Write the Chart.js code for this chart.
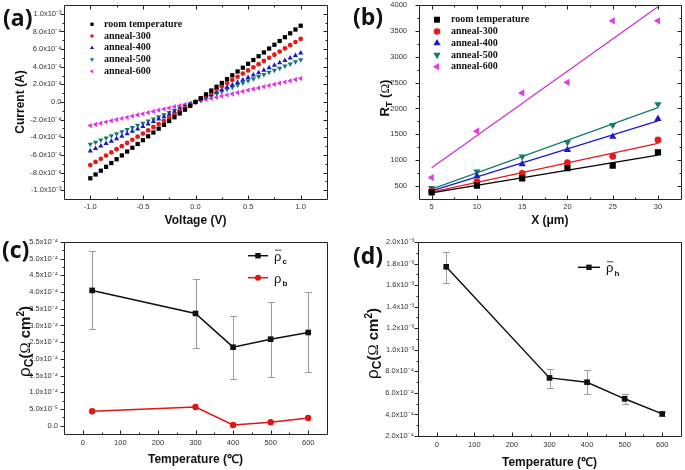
<!DOCTYPE html>
<html>
<head>
<meta charset="utf-8">
<script src="https://cdn.jsdelivr.net/npm/chart.js@4.4.1/dist/chart.umd.min.js"></script>
<style>
  body { margin: 0; background: #fff; }
  #wrap { position: relative; width: 685px; height: 470px; }
  canvas { position: absolute; }
</style>
</head>
<body>
<div id="wrap">
  <canvas id="chartA" width="340" height="235" style="left:0;top:0"></canvas>
  <canvas id="chartB" width="345" height="235" style="left:340px;top:0"></canvas>
  <canvas id="chartC" width="340" height="235" style="left:0;top:235px"></canvas>
  <canvas id="chartD" width="345" height="235" style="left:340px;top:235px"></canvas>
</div>
<script>
// ---- (a) I-V sweeps ----
const voltage = [-1, -0.95, -0.9, -0.85, -0.8, -0.75, -0.7, -0.65, -0.6, -0.55, -0.5, -0.45, -0.4, -0.35, -0.3, -0.25, -0.2, -0.15, -0.1, -0.05,
  0, 0.05, 0.1, 0.15, 0.2, 0.25, 0.3, 0.35, 0.4, 0.45, 0.5, 0.55, 0.6, 0.65, 0.7, 0.75, 0.8, 0.85, 0.9, 0.95, 1];
const currentRoom = [-8.65e-4, -8.22e-4, -7.79e-4, -7.35e-4, -6.92e-4, -6.49e-4, -6.06e-4, -5.62e-4, -5.19e-4, -4.76e-4, -4.33e-4, -3.89e-4, -3.46e-4, -3.03e-4, -2.60e-4, -2.16e-4, -1.73e-4, -1.30e-4, -0.87e-4, -0.43e-4,
  0, 0.43e-4, 0.87e-4, 1.30e-4, 1.73e-4, 2.16e-4, 2.60e-4, 3.03e-4, 3.46e-4, 3.89e-4, 4.33e-4, 4.76e-4, 5.19e-4, 5.62e-4, 6.06e-4, 6.49e-4, 6.92e-4, 7.35e-4, 7.79e-4, 8.22e-4, 8.65e-4];
const current300 = [-7.15e-4, -6.79e-4, -6.44e-4, -6.08e-4, -5.72e-4, -5.36e-4, -5.01e-4, -4.65e-4, -4.29e-4, -3.93e-4, -3.58e-4, -3.22e-4, -2.86e-4, -2.50e-4, -2.15e-4, -1.79e-4, -1.43e-4, -1.07e-4, -0.72e-4, -0.36e-4,
  0, 0.36e-4, 0.72e-4, 1.07e-4, 1.43e-4, 1.79e-4, 2.15e-4, 2.50e-4, 2.86e-4, 3.22e-4, 3.58e-4, 3.93e-4, 4.29e-4, 4.65e-4, 5.01e-4, 5.36e-4, 5.72e-4, 6.08e-4, 6.44e-4, 6.79e-4, 7.15e-4];
const current400 = [-5.55e-4, -5.27e-4, -5.00e-4, -4.72e-4, -4.44e-4, -4.16e-4, -3.89e-4, -3.61e-4, -3.33e-4, -3.05e-4, -2.78e-4, -2.50e-4, -2.22e-4, -1.94e-4, -1.67e-4, -1.39e-4, -1.11e-4, -0.83e-4, -0.56e-4, -0.28e-4,
  0, 0.28e-4, 0.56e-4, 0.83e-4, 1.11e-4, 1.39e-4, 1.67e-4, 1.94e-4, 2.22e-4, 2.50e-4, 2.78e-4, 3.05e-4, 3.33e-4, 3.61e-4, 3.89e-4, 4.16e-4, 4.44e-4, 4.72e-4, 5.00e-4, 5.27e-4, 5.55e-4];
const current500 = [-4.80e-4, -4.56e-4, -4.32e-4, -4.08e-4, -3.84e-4, -3.60e-4, -3.36e-4, -3.12e-4, -2.88e-4, -2.64e-4, -2.40e-4, -2.16e-4, -1.92e-4, -1.68e-4, -1.44e-4, -1.20e-4, -0.96e-4, -0.72e-4, -0.48e-4, -0.24e-4,
  0, 0.24e-4, 0.48e-4, 0.72e-4, 0.96e-4, 1.20e-4, 1.44e-4, 1.68e-4, 1.92e-4, 2.16e-4, 2.40e-4, 2.64e-4, 2.88e-4, 3.12e-4, 3.36e-4, 3.60e-4, 3.84e-4, 4.08e-4, 4.32e-4, 4.56e-4, 4.80e-4];
const current600 = [-2.67e-4, -2.54e-4, -2.40e-4, -2.27e-4, -2.14e-4, -2.00e-4, -1.87e-4, -1.74e-4, -1.60e-4, -1.47e-4, -1.34e-4, -1.20e-4, -1.07e-4, -0.93e-4, -0.80e-4, -0.67e-4, -0.53e-4, -0.40e-4, -0.27e-4, -0.13e-4,
  0, 0.13e-4, 0.27e-4, 0.40e-4, 0.53e-4, 0.67e-4, 0.80e-4, 0.93e-4, 1.07e-4, 1.20e-4, 1.34e-4, 1.47e-4, 1.60e-4, 1.74e-4, 1.87e-4, 2.00e-4, 2.14e-4, 2.27e-4, 2.40e-4, 2.54e-4, 2.67e-4];

// ---- (b) TLM total resistance vs spacing ----
const spacing = [5, 10, 15, 20, 25, 30];
const rtRoom = [380, 510, 650, 845, 895, 1150];
const rt300 = [400, 585, 745, 955, 1075, 1390];
const rt400 = [410, 690, 925, 1200, 1455, 1800];
const rt500 = [460, 780, 1070, 1345, 1680, 2080];
const rt600 = [665, 1560, 2300, 2505, 3695, 3695];
const fitX = [5, 30];
const fitRoom = [370, 1100];
const fit300 = [385, 1325];
const fit400 = [405, 1760];
const fit500 = [440, 2015];
const fit600 = [855, 3965];

// ---- (c), (d) vs annealing temperature ----
const temps = [25, 300, 400, 500, 600];
const rhoC = [4.05e-4, 3.36e-4, 2.35e-4, 2.59e-4, 2.79e-4];
const rhoCLow = [2.88e-4, 2.32e-4, 1.41e-4, 1.46e-4, 1.61e-4];
const rhoCHigh = [5.23e-4, 4.40e-4, 3.29e-4, 3.70e-4, 4.00e-4];
const rhoB = [4.3e-5, 5.6e-5, 2e-6, 1e-5, 2.3e-5];
const rhoH = [1.77e-3, 7.39e-4, 6.99e-4, 5.45e-4, 4.05e-4];
const rhoHLow = [1.62e-3, 6.48e-4, 5.87e-4, 4.96e-4, 3.84e-4];
const rhoHHigh = [1.91e-3, 8.23e-4, 8.10e-4, 5.87e-4, 4.24e-4];

// ---- tick values ----
const ticksAX = [-1, -0.5, 0, 0.5, 1];
const ticksAY = [-1e-3, -8e-4, -6e-4, -4e-4, -2e-4, 0, 2e-4, 4e-4, 6e-4, 8e-4, 1e-3];
const ticksBX = [5, 10, 15, 20, 25, 30];
const ticksBY = [500, 1000, 1500, 2000, 2500, 3000, 3500, 4000];
const ticksTemp = [0, 100, 200, 300, 400, 500, 600];
const ticksCY = [0, 5e-5, 1e-4, 1.5e-4, 2e-4, 2.5e-4, 3e-4, 3.5e-4, 4e-4, 4.5e-4, 5e-4, 5.5e-4];
const ticksDY = [2e-4, 4e-4, 6e-4, 8e-4, 1e-3, 1.2e-3, 1.4e-3, 1.6e-3, 1.8e-3, 2e-3];

const SANS = "'Liberation Sans', Arial, sans-serif";
const SERIF = "'Liberation Serif', 'Times New Roman', serif";
Chart.defaults.font.family = SANS;
Chart.defaults.color = '#333';

const SUP = { '-': '⁻', '0': '⁰', '1': '¹', '2': '²', '3': '³', '4': '⁴', '5': '⁵', '6': '⁶', '7': '⁷', '8': '⁸', '9': '⁹' };
function sci(v) {
  if (Math.abs(v) < 1e-12) return '0.0';
  const e = Math.floor(Math.log10(Math.abs(v)) + 1e-9);
  return (v / Math.pow(10, e)).toFixed(1) + 'x10' + String(e).split('').map(c => SUP[c]).join('');
}
const fixed1 = v => v.toFixed(1);
const plain = v => String(v);
const snap = v => Math.round(v) + 0.5;

function minors(majors, min, max) {
  const step = majors[1] - majors[0], eps = (max - min) * 1e-6, out = [];
  for (let v = majors[0] - step / 2; v < max - eps; v += step) if (v > min + eps) out.push(v);
  return out;
}

function mark(ctx, style, rot, r, x, y) {
  if (Chart.helpers && Chart.helpers.drawPoint) {
    Chart.helpers.drawPoint(ctx, { pointStyle: style, rotation: rot, radius: r, borderWidth: 0 }, x, y);
  } else {
    ctx.beginPath(); ctx.arc(x, y, r, 0, Math.PI * 2); ctx.fill();
  }
}

// label gap goes through tickLength (grid hidden) so the layout does not add it as chart padding
function xAxis(min, max, majors, fmt, h, gap, title, titlePad) {
  return {
    type: 'linear', position: 'bottom', min, max,
    grid: { display: false, drawTicks: true, tickLength: gap }, border: { display: false },
    afterBuildTicks: s => { s.ticks = majors.map(v => ({ value: v })); },
    afterFit: s => { s.height = h; },
    ticks: { callback: fmt, padding: 0, autoSkip: false, maxRotation: 0, minRotation: 0, color: '#333', font: { size: 7.5 } },
    title: { display: true, text: title, color: '#111', font: { size: 12, weight: 'bold' }, padding: { top: 0, bottom: titlePad } }
  };
}
function yAxis(min, max, majors, fmt, w, gap, title, titlePad) {
  return {
    type: 'linear', position: 'left', min, max,
    grid: { display: false, drawTicks: true, tickLength: gap }, border: { display: false },
    afterBuildTicks: s => { s.ticks = majors.map(v => ({ value: v })); },
    afterFit: s => { s.width = w; },
    ticks: { callback: fmt, padding: 0, autoSkip: false, color: '#333', font: { size: 7.5 } },
    title: { display: !!title, text: title || '', color: '#111', font: { size: 12, weight: 'bold' }, padding: { top: titlePad || 0, bottom: 0 } }
  };
}

// rotated axis title built from pieces (sub/superscripts)
function richTitle(ctx, cx, cy, parts, base) {
  ctx.save();
  ctx.translate(cx, cy); ctx.rotate(-Math.PI / 2);
  ctx.textAlign = 'left'; ctx.textBaseline = 'alphabetic'; ctx.fillStyle = '#111';
  let total = 0;
  parts.forEach(p => { ctx.font = p.f; total += ctx.measureText(p.t).width; });
  let x = -total / 2;
  parts.forEach(p => { ctx.font = p.f; ctx.fillText(p.t, x, base + (p.dy || 0)); x += ctx.measureText(p.t).width; });
  ctx.restore();
}

function symbolLegend(ctx, items, mx, tx, y0, dy, radius) {
  items.forEach((it, i) => {
    const y = y0 + i * dy;
    ctx.fillStyle = it.color;
    mark(ctx, it.style, it.rot, radius[it.style], mx, y);
    ctx.fillStyle = '#111';
    ctx.font = `bold 10px ${SERIF}`; ctx.textAlign = 'left'; ctx.textBaseline = 'middle';
    ctx.fillText(it.label, tx, y);
  });
}

function lineLegend(ctx, x1, x2, y, color, style, r, sub, bar, subDy) {
  ctx.strokeStyle = color; ctx.lineWidth = 1.5;
  ctx.beginPath(); ctx.moveTo(x1, y); ctx.lineTo(x2, y); ctx.stroke();
  ctx.fillStyle = color;
  mark(ctx, style, 0, r, (x1 + x2) / 2, y);
  const tx = x2 + 6;
  ctx.fillStyle = '#111'; ctx.textAlign = 'left'; ctx.textBaseline = 'alphabetic';
  ctx.font = `13px ${SANS}`;
  ctx.fillText('ρ', tx, y + 5);
  const w = ctx.measureText('ρ').width;
  if (bar) {
    ctx.strokeStyle = '#111'; ctx.lineWidth = 0.8;
    ctx.beginPath(); ctx.moveTo(tx + 1, y - 5.5); ctx.lineTo(tx + w, y - 5.5); ctx.stroke();
  }
  ctx.font = `bold 8px ${SANS}`;
  ctx.fillText(sub, tx + w + 1, y + subDy);
}

function deco(cfg) {
  return {
    id: 'deco',
    beforeDatasetsDraw(chart) {
      if (!cfg.errors) return;
      const { ctx, scales: { x, y } } = chart;
      ctx.save();
      ctx.strokeStyle = '#9c9c9c'; ctx.lineWidth = 1;
      ctx.beginPath();
      cfg.errors.xs.forEach((xv, i) => {
        const px = snap(x.getPixelForValue(xv));
        const lo = snap(y.getPixelForValue(cfg.errors.lo[i])), hi = snap(y.getPixelForValue(cfg.errors.hi[i]));
        ctx.moveTo(px, lo); ctx.lineTo(px, hi);
        ctx.moveTo(px - 3.5, lo); ctx.lineTo(px + 3.5, lo);
        ctx.moveTo(px - 3.5, hi); ctx.lineTo(px + 3.5, hi);
      });
      ctx.stroke();
      ctx.restore();
    },
    afterDatasetsDraw(chart) {
      const { ctx, chartArea: a, scales: { x, y } } = chart;
      const L = snap(a.left), R = snap(a.right), T = snap(a.top), B = snap(a.bottom);
      ctx.save();
      ctx.strokeStyle = '#222'; ctx.lineWidth = 1;
      ctx.beginPath();
      ctx.rect(L, T, R - L, B - T);
      const xt = (vals, len) => vals.forEach(v => {
        const p = snap(x.getPixelForValue(v));
        ctx.moveTo(p, B); ctx.lineTo(p, B - len);
        if (cfg.mirror) { ctx.moveTo(p, T); ctx.lineTo(p, T + len); }
      });
      const yt = (vals, len) => vals.forEach(v => {
        const p = snap(y.getPixelForValue(v));
        ctx.moveTo(L, p); ctx.lineTo(L - len, p);
        if (cfg.mirror) { ctx.moveTo(R, p); ctx.lineTo(R - len, p); }
      });
      xt(cfg.xMajor, 4); xt(minors(cfg.xMajor, x.min, x.max), 2);
      yt(cfg.yMajor, 4); yt(minors(cfg.yMajor, y.min, y.max), 2);
      ctx.stroke();
      ctx.restore();
    },
    afterDraw(chart) {
      const ctx = chart.ctx;
      ctx.save();
      if (cfg.draw) cfg.draw(ctx, chart);
      ctx.fillStyle = '#111';
      ctx.font = `bold 23px 'Open Sans', ${SANS}`;
      ctx.textAlign = 'left'; ctx.textBaseline = 'middle';
      ctx.fillText(cfg.tag, cfg.tagX, cfg.tagY);
      ctx.restore();
    }
  };
}

const baseOptions = (layoutPad) => ({
  responsive: false, animation: false, devicePixelRatio: 1,
  layout: { padding: layoutPad },
  plugins: { legend: { display: false }, tooltip: { enabled: false } }
});

// ---------- (a) ----------
const seriesA = [
  { label: 'room temperature', color: '#000000', style: 'rect', rot: 0 },
  { label: 'anneal-300', color: '#e01c1c', style: 'circle', rot: 0 },
  { label: 'anneal-400', color: '#1c1cc4', style: 'triangle', rot: 0 },
  { label: 'anneal-500', color: '#137a70', style: 'triangle', rot: 180 },
  { label: 'anneal-600', color: '#e334e3', style: 'triangle', rot: -90 }
];
const currentsA = [currentRoom, current300, current400, current500, current600];
const radiusA = { rect: 3, circle: 2.4, triangle: 3 };

new Chart(document.getElementById('chartA'), {
  type: 'scatter',
  data: {
    datasets: seriesA.map((s, k) => ({
      label: s.label,
      data: voltage.map((v, i) => ({ x: v, y: currentsA[k][i] })),
      pointStyle: s.style, rotation: s.rot, pointRadius: radiusA[s.style],
      backgroundColor: s.color, borderColor: s.color, pointBorderWidth: 0, showLine: false
    }))
  },
  options: Object.assign(baseOptions({ top: 5, right: 13, left: 0, bottom: 0 }), {
    scales: {
      x: xAxis(-1.25, 1.25, ticksAX, fixed1, 36, 3, 'Voltage (V)', 7),
      y: yAxis(-1.1e-3, 1.1e-3, ticksAY, sci, 64, 2.5, 'Current (A)', 13)
    }
  }),
  plugins: [deco({
    mirror: true, xMajor: ticksAX, yMajor: ticksAY, tag: '(a)', tagX: 3, tagY: 19,
    draw: ctx => symbolLegend(ctx, seriesA, 92, 104, 24.3, 11.75, { rect: 2.3, circle: 1.8, triangle: 2.4 })
  })]
});

// ---------- (b) ----------
const seriesB = [
  { label: 'room temperature', color: '#000000', style: 'rect', rot: 0, data: rtRoom, fit: fitRoom, line: '#000000' },
  { label: 'anneal-300', color: '#e51b1b', style: 'circle', rot: 0, data: rt300, fit: fit300, line: '#e51b1b' },
  { label: 'anneal-400', color: '#1a1ac8', style: 'triangle', rot: 0, data: rt400, fit: fit400, line: '#1a1ac8' },
  { label: 'anneal-500', color: '#157a6f', style: 'triangle', rot: 180, data: rt500, fit: fit500, line: '#157a6f' },
  { label: 'anneal-600', color: '#e23ce2', style: 'triangle', rot: -90, data: rt600, fit: fit600, line: '#cc33cc' }
];
const radiusB = { rect: 4.4, circle: 3.4, triangle: 4.2 };

new Chart(document.getElementById('chartB'), {
  type: 'scatter',
  data: {
    datasets: seriesB.map(s => ({
      label: s.label,
      data: spacing.map((v, i) => ({ x: v, y: s.data[i] })),
      pointStyle: s.style, rotation: s.rot, pointRadius: radiusB[s.style],
      backgroundColor: s.color, borderColor: s.color, pointBorderWidth: 0, showLine: false
    })).concat(seriesB.map(s => ({
      label: s.label + ' fit',
      data: fitX.map((v, i) => ({ x: v, y: s.fit[i] })),
      showLine: true, pointRadius: 0, borderColor: s.line, borderWidth: 1.3
    })))
  },
  options: Object.assign(baseOptions({ top: 5, right: 2, left: 0, bottom: 0 }), {
    scales: {
      x: xAxis(3.6, 32.5, ticksBX, plain, 36, 3, 'X (μm)', 7),
      y: yAxis(250, 4000, ticksBY, plain, 79, 12)
    }
  }),
  plugins: [deco({
    mirror: true, xMajor: ticksBX, yMajor: ticksBY, tag: '(b)', tagX: 13, tagY: 18,
    draw: ctx => {
      symbolLegend(ctx, seriesB, 97, 111, 19.7, 11.75, { rect: 4.2, circle: 3.3, triangle: 4.2 });
      richTitle(ctx, 44, 98, [
        { t: 'R', f: `bold 13px ${SANS}` },
        { t: 'T', f: `bold 9px ${SANS}`, dy: 3 },
        { t: ' (', f: `bold 13px ${SANS}` },
        { t: 'Ω', f: `13px ${SERIF}` },
        { t: ')', f: `bold 13px ${SANS}` }
      ], 4.5);
    }
  })]
});

// ---------- (c) ----------
const rhoTitle = [
  { t: 'ρ', f: `17px ${SANS}` },
  { t: 'C', f: `bold 12px ${SANS}`, dy: 3 },
  { t: '(', f: `bold 15px ${SANS}` },
  { t: 'Ω', f: `15px ${SERIF}` },
  { t: ' cm', f: `bold 15px ${SANS}` },
  { t: '2', f: `bold 10px ${SANS}`, dy: -6 },
  { t: ')', f: `bold 15px ${SANS}` }
];

new Chart(document.getElementById('chartC'), {
  type: 'scatter',
  data: {
    datasets: [
      { label: 'rho_c', data: temps.map((t, i) => ({ x: t, y: rhoC[i] })), showLine: true,
        borderColor: '#111', backgroundColor: '#111', borderWidth: 1.5, pointStyle: 'rect', pointRadius: 4, pointBorderWidth: 0 },
      { label: 'rho_b', data: temps.map((t, i) => ({ x: t, y: rhoB[i] })), showLine: true,
        borderColor: '#e01414', backgroundColor: '#e01414', borderWidth: 1.5, pointStyle: 'circle', pointRadius: 3.2, pointBorderWidth: 0 }
    ]
  },
  options: Object.assign(baseOptions({ top: 7, right: 13, left: 0, bottom: 0 }), {
    scales: {
      x: xAxis(-50, 650, ticksTemp, plain, 36, 4.5, 'Temperature (℃)', 3),
      y: yAxis(-2.5e-5, 5.5e-4, ticksCY, sci, 64, 6)
    }
  }),
  plugins: [deco({
    mirror: false, xMajor: ticksTemp, yMajor: ticksCY, tag: '(c)', tagX: 2, tagY: 16,
    errors: { xs: temps, lo: rhoCLow, hi: rhoCHigh },
    draw: ctx => {
      lineLegend(ctx, 248, 268, 20.7, '#111', 'rect', 3.8, 'c', true, 8);
      lineLegend(ctx, 248, 268, 42.7, '#e01414', 'circle', 3, 'b', false, 8);
      richTitle(ctx, 25, 106.5, rhoTitle, 4.5);
    }
  })]
});

// ---------- (d) ----------
new Chart(document.getElementById('chartD'), {
  type: 'scatter',
  data: {
    datasets: [
      { label: 'rho_h', data: temps.map((t, i) => ({ x: t, y: rhoH[i] })), showLine: true,
        borderColor: '#111', backgroundColor: '#111', borderWidth: 1.5, pointStyle: 'rect', pointRadius: 4, pointBorderWidth: 0 }
    ]
  },
  options: Object.assign(baseOptions({ top: 7, right: 2, left: 0, bottom: 0 }), {
    scales: {
      x: xAxis(-50, 650, ticksTemp, plain, 34, 4.5, 'Temperature (℃)', 0),
      y: yAxis(2e-4, 2e-3, ticksDY, sci, 78, 4)
    }
  }),
  plugins: [deco({
    mirror: false, xMajor: ticksTemp, yMajor: ticksDY, tag: '(d)', tagX: 13, tagY: 22,
    errors: { xs: temps, lo: rhoHLow, hi: rhoHHigh },
    draw: ctx => {
      lineLegend(ctx, 238, 260, 32.3, '#111', 'rect', 3.8, 'h', true, 9);
      richTitle(ctx, 33, 108.5, rhoTitle, 4.5);
    }
  })]
});
</script>
</body>
</html>
